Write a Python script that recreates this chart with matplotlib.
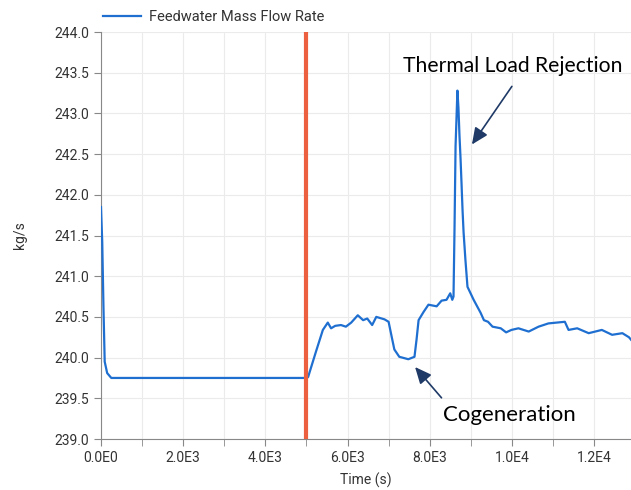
import numpy as np
import matplotlib.pyplot as plt
from matplotlib.ticker import MultipleLocator, FuncFormatter

plt.rcParams['font.family'] = ['Roboto', 'DejaVu Sans']

# feedwater mass flow
time_s = [0, 30, 60, 90, 150, 250, 5000, 5040, 5230, 5400, 5520, 5600, 5700, 5840,
          5960, 6090, 6250, 6380, 6480, 6600, 6700, 6900, 7000, 7090, 7140, 7260,
          7480, 7630, 7680, 7730, 7850, 7970, 8170, 8290, 8410, 8500, 8550, 8580,
          8605, 8630, 8650, 8675, 8700, 8725, 8750, 8775, 8800, 8825, 8870, 8920,
          9070, 9240, 9320, 9420, 9530, 9730, 9860, 9990, 10160, 10410, 10650,
          10890, 11290, 11380, 11590, 11870, 12190, 12440, 12690, 12850, 12900]
flow = [241.85, 241.42, 240.62, 239.95, 239.81, 239.75, 239.75, 239.76, 240.07,
        240.34, 240.43, 240.36, 240.39, 240.40, 240.38, 240.43, 240.52, 240.46,
        240.48, 240.40, 240.50, 240.47, 240.44, 240.22, 240.10, 240.01, 239.98,
        240.01, 240.22, 240.46, 240.56, 240.65, 240.63, 240.70, 240.71, 240.79,
        240.71, 240.75, 241.6, 242.6, 242.9, 243.28, 243.07, 242.73, 242.46,
        242.14, 241.81, 241.54, 241.2, 240.87, 240.71, 240.55, 240.46, 240.44,
        240.38, 240.36, 240.31, 240.34, 240.36, 240.32, 240.38, 240.42, 240.44,
        240.34, 240.36, 240.30, 240.34, 240.28, 240.30, 240.25, 240.22]
event_time = 5000

x_ticks = [0, 2000, 4000, 6000, 8000, 10000, 12000]
x_labels = ['0.0E0', '2.0E3', '4.0E3', '6.0E3', '8.0E3', '1.0E4', '1.2E4']

fig = plt.figure(figsize=(6.31, 4.9), dpi=100)
ax = fig.add_axes([101 / 631, 51 / 490, 530 / 631, 407 / 490])

ax.plot(time_s, flow, color='#1f6fd1', lw=1.6, label='Feedwater Mass Flow Rate', zorder=3)
ax.axvline(event_time, color='#ec5f3f', lw=3, zorder=4)

ax.set_xlim(0, 12900)
ax.set_ylim(239.0, 244.0)
ax.set_xticks(x_ticks)
ax.set_xticklabels(x_labels)
ax.xaxis.set_minor_locator(MultipleLocator(1000))
ax.yaxis.set_major_locator(MultipleLocator(0.5))
ax.yaxis.set_major_formatter(FuncFormatter(lambda v, p: f'{v:.1f}'))
ax.grid(True, which='both', color='#ebebeb', lw=0.8)
ax.set_axisbelow(True)

for s in ['top', 'right']:
    ax.spines[s].set_visible(False)
for s in ['left', 'bottom']:
    ax.spines[s].set_color('#888888')
ax.tick_params(which='both', colors='#888888', labelcolor='#333333', labelsize=10, length=5)

ax.set_xlabel('Time (s)', fontsize=10, color='#333333', labelpad=6)
ax.set_ylabel('kg/s', fontsize=10, color='#333333', labelpad=20)

ax.legend(loc='lower left', bbox_to_anchor=(-0.012, 1.0), frameon=False,
          fontsize=10.5, handlelength=2.6, handletextpad=0.6, labelcolor='#333333',
          borderaxespad=0.15)

arrow = dict(arrowstyle='-|>,head_length=1.0,head_width=0.45', color='#1f3a66', lw=1.2)
ax.annotate('Thermal Load Rejection', xy=(8990, 242.59), xytext=(7340, 243.58),
            fontsize=15.2, family='Lato', va='center', ha='left', annotation_clip=False)
ax.annotate('', xy=(8990, 242.59), xytext=(10039, 243.36), arrowprops=arrow)
ax.annotate('Cogeneration', xy=(7600, 239.91), xytext=(9940, 239.30),
            fontsize=16, family='Lato', va='center', ha='center', annotation_clip=False)
ax.annotate('', xy=(7600, 239.91), xytext=(8332, 239.48), arrowprops=arrow,
            annotation_clip=False)

fig.savefig('out.png', dpi=100)
